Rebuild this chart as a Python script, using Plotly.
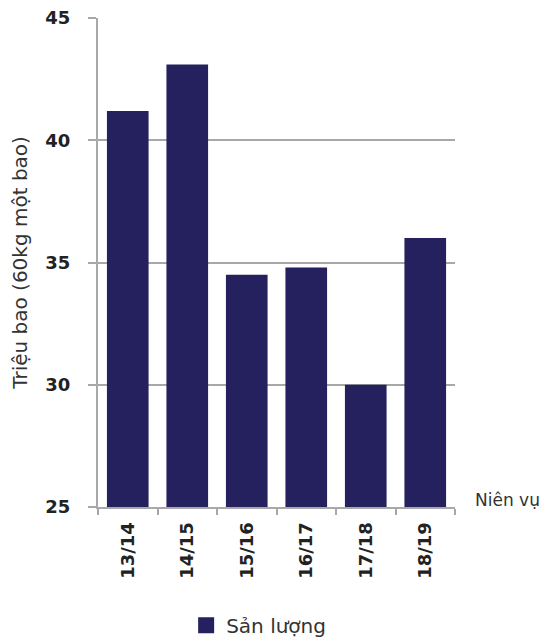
import plotly.graph_objects as go

categories = ["13/14", "14/15", "15/16", "16/17", "17/18", "18/19"]
production = [41.2, 43.1, 34.5, 34.8, 30.0, 36.0]
y_ticks = [25, 30, 35, 40, 45]
series_name = "Sản lượng"

bar_color = "#25215e"
grid_color = "#a8a8a8"
txt_font = "DejaVu Sans, Liberation Sans, Arial"

fig = go.Figure()
fig.add_trace(go.Bar(
    x=categories, y=production, name=series_name, showlegend=False,
    marker=dict(color=bar_color, line=dict(width=0)),
))
# legend entry with a larger square swatch
fig.add_trace(go.Scatter(
    x=[None], y=[None], mode="markers", name=series_name,
    marker=dict(symbol="square", size=16, color=bar_color),
))

fig.update_layout(
    width=550, height=639,
    margin=dict(l=90, r=103, t=10, b=140),
    plot_bgcolor="white", paper_bgcolor="white",
    bargap=0.3,
    showlegend=True,
    legend=dict(orientation="h", xref="paper", yref="container",
                x=0.45, xanchor="center", y=0.034, yanchor="middle",
                font=dict(family=txt_font, size=20, color="#333333")),
    font=dict(family=txt_font, color="#222222"),
    xaxis=dict(
        type="category", automargin=False,
        tickangle=-90,
        tickfont=dict(family=txt_font, size=18, color="#222222", weight="bold"),
        showline=True, linecolor=grid_color, linewidth=2,
        ticks="outside", tickson="boundaries", ticklen=6, tickcolor=grid_color, tickwidth=2,
        ticklabelstandoff=6,
        showgrid=False,
    ),
    yaxis=dict(
        range=[25, 45], tickvals=y_ticks, automargin=False,
        ticklabeloverflow="allow",
        tickfont=dict(family=txt_font, size=18, color="#222222", weight="bold"),
        showline=True, linecolor=grid_color, linewidth=2,
        ticks="outside", ticklen=8, tickcolor=grid_color, tickwidth=2,
        ticklabelstandoff=14,
        showgrid=True, gridcolor=grid_color, gridwidth=2,
        zeroline=False,
        title=dict(text="Triệu bao (60kg một bao)", standoff=24,
                   font=dict(family=txt_font, size=20, color="#333333")),
    ),
    annotations=[dict(
        text="Niên vụ", xref="paper", yref="paper", x=1.05, y=0.014, xanchor="left", yanchor="middle",
        showarrow=False, font=dict(family=txt_font, size=17, color="#333333"),
    )],
)

fig.write_html("out.html")
